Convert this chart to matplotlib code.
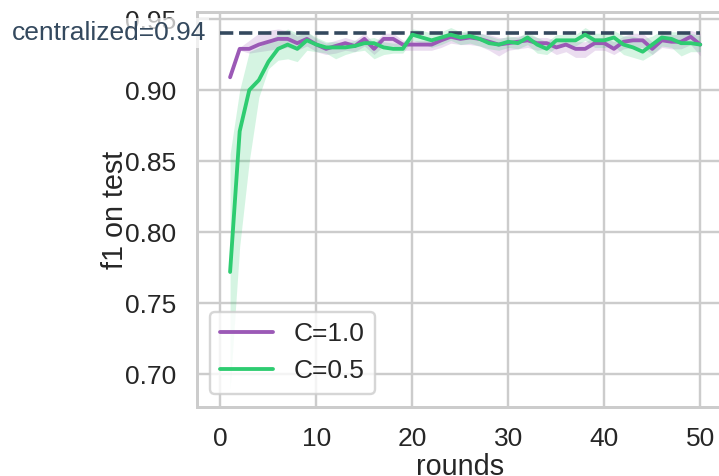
import matplotlib
matplotlib.use("Agg")
import matplotlib.pyplot as plt
import seaborn as sns

sns.set_theme(style="whitegrid", context="talk")
plt.rcParams["font.family"] = ["Liberation Sans", "DejaVu Sans"]

rounds = list(range(1, 51))

# C=1.0
p_mean = [0.909, 0.929, 0.929, 0.932, 0.934, 0.936, 0.936, 0.933, 0.936, 0.932,
          0.929, 0.931, 0.933, 0.931, 0.936, 0.929, 0.936, 0.936, 0.932, 0.932,
          0.932, 0.932, 0.935, 0.9375, 0.936, 0.937, 0.936, 0.934, 0.932, 0.933,
          0.934, 0.935, 0.933, 0.933, 0.930, 0.932, 0.929, 0.929, 0.933, 0.933,
          0.929, 0.934, 0.935, 0.935, 0.929, 0.935, 0.934, 0.934, 0.9375, 0.932]
p_lo = [0.909, 0.928, 0.926, 0.927, 0.928, 0.929, 0.930, 0.928, 0.931, 0.927,
        0.925, 0.926, 0.928, 0.927, 0.931, 0.925, 0.931, 0.931, 0.928, 0.928,
        0.928, 0.928, 0.930, 0.933, 0.932, 0.932, 0.931, 0.928, 0.924, 0.928,
        0.929, 0.930, 0.928, 0.929, 0.925, 0.927, 0.923, 0.923, 0.928, 0.928,
        0.925, 0.929, 0.930, 0.930, 0.925, 0.930, 0.929, 0.929, 0.932, 0.924]
p_hi = [0.909, 0.930, 0.935, 0.940, 0.942, 0.943, 0.942, 0.938, 0.941, 0.936,
        0.933, 0.935, 0.937, 0.935, 0.940, 0.933, 0.940, 0.940, 0.935, 0.935,
        0.935, 0.935, 0.938, 0.942, 0.940, 0.941, 0.940, 0.939, 0.937, 0.937,
        0.938, 0.939, 0.937, 0.937, 0.935, 0.936, 0.934, 0.934, 0.937, 0.937,
        0.934, 0.938, 0.940, 0.940, 0.934, 0.940, 0.939, 0.939, 0.942, 0.940]

# C=0.5
g_mean = [0.772, 0.871, 0.900, 0.907, 0.920, 0.929, 0.932, 0.929, 0.935, 0.932,
          0.930, 0.930, 0.930, 0.931, 0.933, 0.933, 0.930, 0.929, 0.929, 0.939,
          0.937, 0.935, 0.937, 0.939, 0.937, 0.938, 0.936, 0.933, 0.932, 0.934,
          0.933, 0.937, 0.932, 0.929, 0.935, 0.935, 0.935, 0.939, 0.935, 0.935,
          0.937, 0.932, 0.930, 0.927, 0.932, 0.937, 0.936, 0.933, 0.933, 0.932]
g_lo = [0.690, 0.790, 0.850, 0.895, 0.915, 0.921, 0.922, 0.920, 0.928, 0.927,
        0.926, 0.922, 0.925, 0.927, 0.928, 0.922, 0.925, 0.926, 0.926, 0.935,
        0.933, 0.930, 0.932, 0.935, 0.932, 0.933, 0.931, 0.929, 0.928, 0.930,
        0.929, 0.932, 0.926, 0.925, 0.930, 0.931, 0.931, 0.935, 0.930, 0.930,
        0.931, 0.925, 0.923, 0.921, 0.925, 0.931, 0.930, 0.924, 0.927, 0.927]
g_hi = [0.855, 0.900, 0.927, 0.930, 0.935, 0.939, 0.943, 0.940, 0.941, 0.937,
        0.934, 0.934, 0.933, 0.935, 0.936, 0.937, 0.934, 0.933, 0.933, 0.943,
        0.942, 0.940, 0.941, 0.944, 0.941, 0.942, 0.940, 0.938, 0.936, 0.938,
        0.937, 0.941, 0.937, 0.934, 0.939, 0.939, 0.939, 0.944, 0.940, 0.940,
        0.942, 0.938, 0.938, 0.936, 0.938, 0.942, 0.941, 0.941, 0.940, 0.938]

centralized = 0.94

fig = plt.figure(figsize=(719 / 115, 476 / 115), dpi=115)
ax = fig.add_axes([0.2733, 0.145, 0.734, 0.830])

ax.hlines(centralized, 0, 50, colors="#34495e", linestyles="--", lw=2.25)
ax.text(-1.5, centralized, "centralized=%.2f" % centralized, ha="right", va="center",
        color="#34495e", fontsize=16.5,
        bbox=dict(facecolor="white", edgecolor="none", alpha=0.7, pad=2))

ax.fill_between(rounds, p_lo, p_hi, color="#9b59b6", alpha=0.2, lw=0)
ax.plot(rounds, p_mean, color="#9b59b6", lw=2.4, label="C=1.0")
ax.fill_between(rounds, g_lo, g_hi, color="#2ecc71", alpha=0.2, lw=0)
ax.plot(rounds, g_mean, color="#2ecc71", lw=2.4, label="C=0.5")

ax.set_xlim(-2.5, 52.5)
ax.set_ylim(0.677, 0.955)
ax.set_xticks([0, 10, 20, 30, 40, 50])
ax.set_yticks([0.70, 0.75, 0.80, 0.85, 0.90, 0.95])
ax.set_xlabel("rounds", labelpad=1.5)
ax.set_ylabel("f1 on test", labelpad=-2.5)
ax.legend(loc="lower left")

fig.savefig("out.png", dpi=115)
